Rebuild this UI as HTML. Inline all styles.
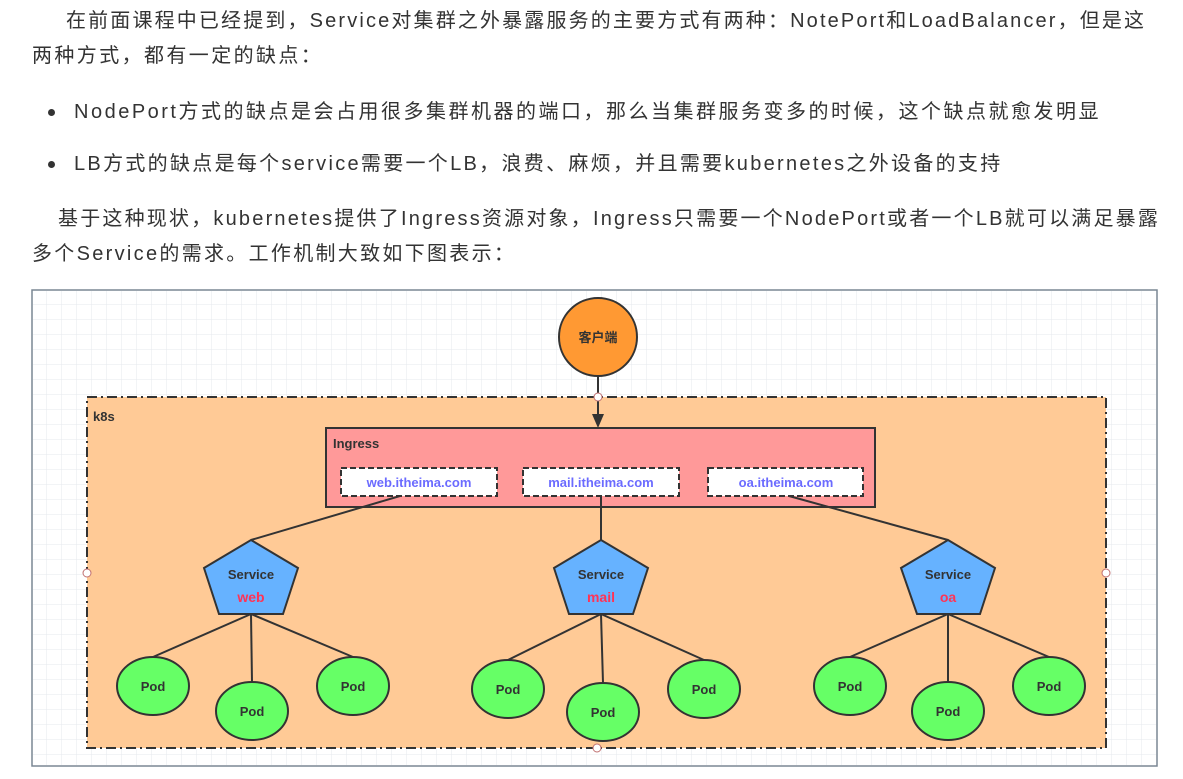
<!DOCTYPE html>
<html><head><meta charset="utf-8"><style>
body{margin:0;width:1183px;height:779px;background:#fff;overflow:hidden;position:relative;font-family:"Liberation Sans","Noto Sans CJK SC",sans-serif;color:#333;}
.t{position:absolute;font-size:20px;white-space:nowrap;line-height:24px;}
.b{position:absolute;width:7px;height:7px;border-radius:50%;background:#333;}
svg{position:absolute;left:0;top:0}
</style></head><body>
<div class="t" style="left:66px;top:9px;letter-spacing:2.15px">在前面课程中已经提到，Service对集群之外暴露服务的主要方式有两种：NotePort和LoadBalancer，但是这</div>
<div class="t" style="left:32px;top:44px;letter-spacing:2.4px">两种方式，都有一定的缺点：</div>
<div class="b" style="left:48px;top:109px"></div>
<div class="t" style="left:74px;top:100px;letter-spacing:2.5px">NodePort方式的缺点是会占用很多集群机器的端口，那么当集群服务变多的时候，这个缺点就愈发明显</div>
<div class="b" style="left:48px;top:161px"></div>
<div class="t" style="left:74px;top:152px;letter-spacing:2.3px">LB方式的缺点是每个service需要一个LB，浪费、麻烦，并且需要kubernetes之外设备的支持</div>
<div class="t" style="left:58px;top:207px;letter-spacing:2.2px">基于这种现状，kubernetes提供了Ingress资源对象，Ingress只需要一个NodePort或者一个LB就可以满足暴露</div>
<div class="t" style="left:32px;top:242px;letter-spacing:2.3px">多个Service的需求。工作机制大致如下图表示：</div>
<svg width="1183" height="779" font-family="Liberation Sans, Noto Sans CJK SC, sans-serif" font-weight="bold">
<defs><pattern id="g" width="15" height="15" patternUnits="userSpaceOnUse" x="32" y="290"><path d="M15 0V15H0" fill="none" stroke="#e6e9ee" stroke-width="1"/></pattern></defs>
<rect x="32" y="290" width="1125" height="476" fill="#fff" stroke="#7a8794" stroke-width="1.5"/>
<rect x="33" y="291" width="1123" height="474" fill="url(#g)"/>
<rect x="87" y="397" width="1019" height="351" fill="#ffca96" stroke="#333" stroke-width="2" stroke-dasharray="10,4,2,4"/>
<text x="93" y="421" font-size="13" fill="#333">k8s</text>
<line x1="598" y1="376" x2="598" y2="416" stroke="#333" stroke-width="2"/>
<polygon points="592,414 604,414 598,428" fill="#333"/>
<circle cx="598" cy="337" r="39" fill="#ff9933" stroke="#333" stroke-width="2"/>
<text x="598" y="342" font-size="13" fill="#333" text-anchor="middle">客户端</text>
<circle cx="598" cy="397" r="4" fill="#fff" stroke="#c07070"/>
<circle cx="87" cy="573" r="4" fill="#fff" stroke="#c07070"/>
<circle cx="1106" cy="573" r="4" fill="#fff" stroke="#c07070"/>
<circle cx="597" cy="748" r="4" fill="#fff" stroke="#c07070"/>
<rect x="326" y="428" width="549" height="79" fill="#ff9999" stroke="#333" stroke-width="2"/>
<text x="333" y="448" font-size="13" fill="#333">Ingress</text>
<g stroke="#333" stroke-width="2" fill="none">
<line x1="400" y1="496" x2="251" y2="540"/>
<line x1="601" y1="496" x2="601" y2="540"/>
<line x1="789" y1="496" x2="948" y2="540"/>
<line x1="251" y1="614" x2="153" y2="657"/><line x1="251" y1="614" x2="252" y2="682"/><line x1="251" y1="614" x2="353" y2="657"/>
<line x1="601" y1="614" x2="508" y2="660"/><line x1="601" y1="614" x2="603" y2="683"/><line x1="601" y1="614" x2="704" y2="660"/>
<line x1="948" y1="614" x2="850" y2="657"/><line x1="948" y1="614" x2="948" y2="682"/><line x1="948" y1="614" x2="1049" y2="657"/>
</g>
<g fill="#fff" stroke="#333" stroke-width="2" stroke-dasharray="6,3">
<rect x="341" y="468" width="156" height="28"/><rect x="523" y="468" width="156" height="28"/><rect x="708" y="468" width="155" height="28"/>
</g>
<g font-size="13" fill="#6b6bff" text-anchor="middle">
<text x="419" y="487">web.itheima.com</text><text x="601" y="487">mail.itheima.com</text><text x="786" y="487">oa.itheima.com</text>
</g>
<g fill="#66b2ff" stroke="#333" stroke-width="2">
<polygon points="251,540 298,568 283,614 219,614 204,568"/>
<polygon points="601,540 648,568 633,614 569,614 554,568"/>
<polygon points="948,540 995,568 980,614 917,614 901,568"/>
</g>
<g font-size="13" text-anchor="middle">
<text x="251" y="579" fill="#333">Service</text><text x="251" y="602" fill="#ff3355" font-size="14">web</text>
<text x="601" y="579" fill="#333">Service</text><text x="601" y="602" fill="#ff3355" font-size="14">mail</text>
<text x="948" y="579" fill="#333">Service</text><text x="948" y="602" fill="#ff3355" font-size="14">oa</text>
</g>
<g fill="#66ff66" stroke="#333" stroke-width="2">
<ellipse cx="153" cy="686" rx="36" ry="29"/><ellipse cx="252" cy="711" rx="36" ry="29"/><ellipse cx="353" cy="686" rx="36" ry="29"/>
<ellipse cx="508" cy="689" rx="36" ry="29"/><ellipse cx="603" cy="712" rx="36" ry="29"/><ellipse cx="704" cy="689" rx="36" ry="29"/>
<ellipse cx="850" cy="686" rx="36" ry="29"/><ellipse cx="948" cy="711" rx="36" ry="29"/><ellipse cx="1049" cy="686" rx="36" ry="29"/>
</g>
<g font-size="13" fill="#333" text-anchor="middle">
<text x="153" y="691">Pod</text><text x="252" y="716">Pod</text><text x="353" y="691">Pod</text>
<text x="508" y="694">Pod</text><text x="603" y="717">Pod</text><text x="704" y="694">Pod</text>
<text x="850" y="691">Pod</text><text x="948" y="716">Pod</text><text x="1049" y="691">Pod</text>
</g>
</svg>
</body></html>
